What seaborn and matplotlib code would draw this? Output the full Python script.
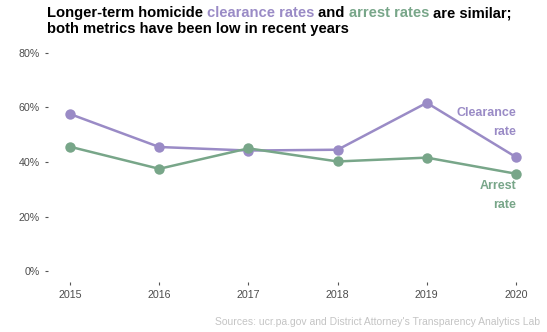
import matplotlib
matplotlib.use("Agg")
import matplotlib.pyplot as plt
import seaborn as sns
import pandas as pd
from matplotlib.ticker import PercentFormatter

years = [2015, 2016, 2017, 2018, 2019, 2020]
clearance = [0.576, 0.455, 0.442, 0.445, 0.617, 0.418]
arrest = [0.456, 0.375, 0.450, 0.402, 0.416, 0.357]
y_ticks = [0, 0.2, 0.4, 0.6, 0.8]

PURPLE = "#9a8bc6"
GREEN = "#78a689"

df = pd.DataFrame({
    "year": years * 2,
    "rate": clearance + arrest,
    "metric": ["Clearance"] * len(years) + ["Arrest"] * len(years),
})

sns.set_theme(style="white")
plt.rcParams["font.family"] = ["Liberation Sans", "DejaVu Sans"]

W, H = 547, 332
fig = plt.figure(figsize=(W / 100, H / 100), dpi=100)
ax = fig.add_axes([47.7 / W, 1 - 282 / H, 490.6 / W, 240 / H])

sns.lineplot(data=df, x="year", y="rate", hue="metric",
             palette={"Clearance": PURPLE, "Arrest": GREEN},
             marker="o", markersize=7.5, markeredgewidth=0, linewidth=1.8,
             legend=False, ax=ax)

ax.set_xlim(2015 - 0.25, 2020 + 0.25)
ax.set_ylim(-0.04, 0.84)
ax.set_xticks(years)
ax.set_xticklabels([str(y) for y in years])
ax.set_yticks(y_ticks)
ax.yaxis.set_major_formatter(PercentFormatter(1.0, decimals=0))
ax.set_xlabel("")
ax.set_ylabel("")
for s in ax.spines.values():
    s.set_visible(False)
ax.tick_params(axis="both", which="both", length=2.5, width=0.8, color="#555555",
               labelsize=7.7, labelcolor="#4d4d4d", pad=3, bottom=True, left=True)

ax.text(2020, 0.545, "Clearance\nrate", color=PURPLE, fontsize=9, fontweight="bold",
        ha="right", va="center", linespacing=1.75)
ax.text(2020, 0.277, "Arrest\nrate", color=GREEN, fontsize=9, fontweight="bold",
        ha="right", va="center", linespacing=1.75)

# multi-coloured title
renderer = fig.canvas.get_renderer()
pieces = [("Longer-term homicide ", "black"), ("clearance rates", PURPLE),
          (" and ", "black"), ("arrest rates", GREEN), (" are similar;", "black")]
x = 47 / W
fs = 10.6
for txt, col in pieces:
    t = fig.text(x, 1 - 17 / H, txt, color=col, fontsize=fs, fontweight="bold",
                 ha="left", va="baseline")
    bb = t.get_window_extent(renderer=renderer)
    x += bb.width / W
fig.text(47 / W, 1 - 33 / H, "both metrics have been low in recent years", color="black",
         fontsize=fs, fontweight="bold", ha="left", va="baseline")

fig.text(540 / W, 1 - 325 / H,
         "Sources: ucr.pa.gov and District Attorney's Transparency Analytics Lab",
         color="#c4c4c4", fontsize=7.5, ha="right", va="baseline")

fig.savefig("out.png", dpi=100)
